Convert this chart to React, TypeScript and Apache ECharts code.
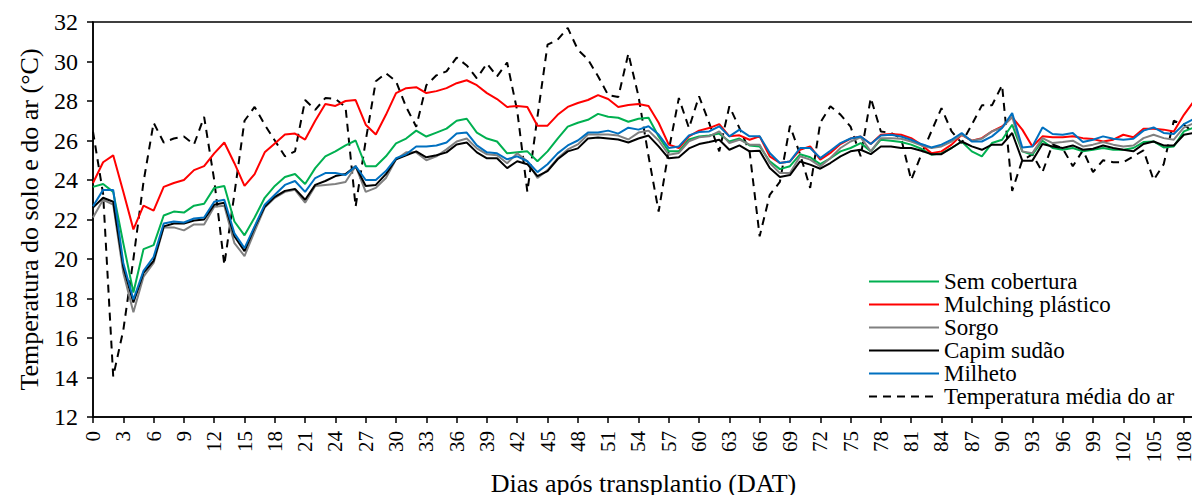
import React, { useEffect, useRef } from "react";
import * as echarts from "echarts";

const days: string[] = Array.from({ length: 110 }, (_, i) => String(i));

const semCobertura = [
  23.65, 23.8, 23.4, 20.8, 18.3, 20.5, 20.7, 22.2, 22.4, 22.35,
  22.7, 22.8, 23.6, 23.7, 21.9, 21.2, 22.1, 23.1, 23.7, 24.15,
  24.3, 23.8, 24.6, 25.2, 25.45, 25.75, 26.0, 24.7, 24.7, 25.2,
  25.85, 26.1, 26.5, 26.2, 26.4, 26.6, 27.0, 27.1, 26.4, 26.1,
  25.95, 25.35, 25.4, 25.45, 24.95, 25.45, 26.1, 26.7, 26.9, 27.05,
  27.35, 27.2, 27.15, 26.95, 27.1, 27.15, 26.2, 25.45, 25.45, 26.05,
  26.2, 26.25, 26.35, 25.95, 26.1, 25.75, 25.7, 24.95, 24.55, 24.7,
  25.3, 25.15, 24.8, 25.1, 25.45, 25.62, 25.87, 25.45, 26.04, 25.99,
  25.92, 25.79, 25.58, 25.28, 25.36, 25.62, 25.95, 25.45, 25.2, 25.87,
  26.04, 26.8, 25.45, 25.28, 25.99, 25.62, 25.53, 25.62, 25.45, 25.53,
  25.62, 25.53, 25.53, 25.62, 25.92, 25.95, 25.65, 25.7, 26.46, 26.66,
];

const mulching = [
  23.85, 24.9, 25.25, 23.4, 21.5, 22.7, 22.45, 23.65, 23.85, 24.0,
  24.5, 24.7, 25.35, 25.9, 24.85, 23.7, 24.3, 25.4, 25.85, 26.3,
  26.35, 26.05, 27.0, 27.85, 27.75, 28.0, 28.05, 26.8, 26.3, 27.3,
  28.4, 28.65, 28.7, 28.4, 28.5, 28.65, 28.9, 29.05, 28.8, 28.4,
  28.1, 27.7, 27.75, 27.7, 26.75, 26.75, 27.3, 27.7, 27.9, 28.05,
  28.3, 28.1, 27.7, 27.8, 27.85, 27.75, 26.9, 25.79, 25.62, 26.21,
  26.5, 26.63, 26.83, 26.21, 26.26, 26.04, 26.21, 25.2, 24.86, 24.94,
  25.53, 25.7, 25.03, 25.37, 25.82, 26.1, 26.2, 25.82, 26.29, 26.33,
  26.29, 26.12, 25.79, 25.36, 25.45, 25.79, 26.29, 25.99, 26.12, 26.46,
  26.71, 27.18, 26.55, 25.7, 26.21, 26.16, 26.16, 26.21, 26.12, 26.07,
  25.95, 26.04, 26.29, 26.16, 26.6, 26.6, 26.55, 26.46, 27.3, 28.0,
];

const sorgo = [
  22.1, 23.0, 22.75, 19.3, 17.3, 19.1, 19.8, 21.6, 21.6, 21.45,
  21.75, 21.75, 22.65, 22.7, 20.8, 20.15, 21.4, 22.6, 23.1, 23.4,
  23.5, 22.85, 23.7, 23.75, 23.8, 23.9, 24.7, 23.4, 23.6, 24.1,
  25.05, 25.4, 25.4, 25.0, 25.2, 25.55, 25.95, 26.1, 25.6, 25.3,
  25.25, 24.85, 25.35, 24.95, 24.1, 24.5, 25.1, 25.55, 25.8, 26.3,
  26.3, 26.3, 26.25, 26.05, 26.4, 26.5, 26.0, 25.28, 25.37, 25.96,
  26.16, 26.21, 26.46, 25.87, 26.04, 25.79, 25.79, 24.86, 24.35, 24.35,
  25.2, 25.03, 24.69, 25.11, 25.62, 25.95, 26.16, 25.45, 26.12, 26.12,
  26.09, 25.95, 25.75, 25.62, 25.7, 25.95, 26.29, 25.99, 26.09, 26.46,
  26.66, 27.2, 25.45, 25.36, 26.12, 25.87, 25.92, 25.99, 25.7, 25.79,
  25.92, 25.79, 25.7, 25.75, 26.12, 26.29, 26.12, 26.04, 26.66, 26.88,
];

const capimSudao = [
  22.6, 23.1, 22.9, 19.6, 17.8, 19.3, 19.9, 21.65, 21.8, 21.8,
  21.95, 22.0, 22.75, 22.85, 21.15, 20.4, 21.6, 22.65, 23.15, 23.45,
  23.55, 23.0, 23.75, 23.95, 24.2, 24.3, 24.7, 23.7, 23.75, 24.3,
  25.05, 25.25, 25.45, 25.15, 25.25, 25.4, 25.8, 25.9, 25.4, 25.1,
  25.1, 24.6, 24.95, 24.8, 24.2, 24.45, 25.05, 25.45, 25.6, 26.1,
  26.15, 26.1, 26.05, 25.9, 26.1, 26.25, 25.7, 25.1, 25.15, 25.6,
  25.82, 25.92, 26.04, 25.53, 25.75, 25.45, 25.48, 24.61, 24.15, 24.25,
  24.94, 24.78, 24.57, 24.86, 25.2, 25.45, 25.53, 25.31, 25.7, 25.7,
  25.62, 25.62, 25.48, 25.31, 25.31, 25.62, 25.95, 25.7, 25.53, 25.79,
  25.79, 26.38, 24.98, 24.98, 25.82, 25.7, 25.62, 25.75, 25.53, 25.58,
  25.75, 25.62, 25.53, 25.45, 25.82, 25.95, 25.75, 25.75, 26.29, 26.38,
];

const milheto = [
  22.67, 23.5, 23.5, 19.8, 17.95, 19.4, 20.1, 21.8, 21.9, 21.85,
  22.05, 22.1, 22.9, 23.0, 21.3, 20.55, 21.65, 22.75, 23.25, 23.75,
  23.95, 23.4, 24.1, 24.35, 24.35, 24.25, 24.7, 24.0, 24.0, 24.45,
  25.1, 25.3, 25.7, 25.7, 25.75, 25.9, 26.35, 26.4, 25.75, 25.4,
  25.35, 25.05, 25.2, 24.95, 24.4, 24.8, 25.35, 25.75, 26.0, 26.4,
  26.4, 26.5, 26.35, 26.65, 26.55, 26.72, 26.3, 25.62, 25.7, 26.26,
  26.43, 26.46, 26.72, 26.21, 26.55, 26.21, 26.21, 25.37, 24.86, 24.94,
  25.62, 25.62, 25.11, 25.48, 25.87, 26.1, 26.2, 25.82, 26.25, 26.29,
  26.2, 26.04, 25.82, 25.65, 25.79, 26.04, 26.38, 25.95, 25.95, 26.21,
  26.63, 27.39, 25.65, 25.7, 26.66, 26.33, 26.29, 26.38, 25.92, 26.04,
  26.21, 26.09, 26.04, 26.09, 26.5, 26.66, 26.38, 26.33, 26.83, 27.1,
];

const tempAr = [
  26.45, 23.3, 14.05, 16.4, 20.0, 23.9, 26.9, 25.9, 26.1, 26.2,
  25.8, 27.2, 24.0, 19.7, 23.3, 27.0, 27.7, 26.8, 26.0, 25.2,
  25.45, 28.05, 27.55, 28.15, 28.1, 27.7, 22.65, 26.0, 29.0, 29.4,
  29.0, 27.7, 26.7, 28.8, 29.3, 29.5, 30.2, 29.8, 29.15, 29.9,
  29.25, 29.95, 27.5, 23.4, 27.2, 30.85, 31.1, 31.7, 30.6, 30.1,
  29.25, 28.3, 28.2, 30.4, 28.25, 25.2, 22.4, 25.5, 28.15, 26.63,
  28.24, 26.89, 25.45, 27.73, 26.63, 25.45, 21.15, 23.25, 23.9, 26.75,
  25.3, 23.6, 26.9, 27.73, 27.31, 26.7, 25.2, 28.15, 26.46, 26.38,
  26.12, 24.0, 25.28, 26.46, 27.64, 26.46, 25.87, 26.8, 27.78, 27.78,
  28.8, 23.45, 25.0, 25.3, 24.4, 25.8, 25.6, 24.7, 25.5, 24.4,
  25.0, 24.9, 24.9, 25.2, 25.5, 24.0, 24.8, 27.0, 26.8, 26.4,
];

const seriesNames = [
  "Sem cobertura",
  "Mulching plástico",
  "Sorgo",
  "Capim sudão",
  "Milheto",
  "Temperatura média do ar",
];
const seriesColors = ["#00B050", "#FF0000", "#808080", "#000000", "#0070C0", "#000000"];
const seriesData = [semCobertura, mulching, sorgo, capimSudao, milheto, tempAr];

const FONT = "Liberation Serif";

function buildOption() {
  return {
    animation: false,
    grid: {
      left: 80,
      right: 14,
      top: 14,
      bottom: 86,
      show: true,
      borderColor: "#000",
      borderWidth: 1.5,
    },
    legend: {
      orient: "vertical",
      left: 860,
      top: 262,
      padding: 0,
      itemWidth: 70,
      itemHeight: 14,
      itemGap: 0,
      data: seriesNames,
      itemStyle: { opacity: 0 },
      textStyle: {
        fontFamily: FONT,
        fontSize: 23,
        lineHeight: 23,
        color: "#000",
      },
    },
    xAxis: {
      type: "category",
      data: days,
      boundaryGap: false,
      name: "Dias após transplantio (DAT)",
      nameLocation: "middle",
      nameGap: 48,
      nameTextStyle: { fontFamily: FONT, fontSize: 26, color: "#000" },
      axisLine: { lineStyle: { color: "#000", width: 1.5 } },
      axisTick: { interval: 2, length: 6, lineStyle: { color: "#000", width: 1.5 } },
      axisLabel: {
        interval: 2,
        rotate: 90,
        margin: 14,
        fontFamily: FONT,
        fontSize: 21,
        color: "#000",
      },
      splitLine: { show: false },
    },
    yAxis: {
      type: "value",
      min: 12,
      max: 32,
      interval: 2,
      name: "Temperatura do solo e do ar (°C)",
      nameLocation: "middle",
      nameGap: 51,
      nameTextStyle: { fontFamily: FONT, fontSize: 26, color: "#000" },
      axisLine: { show: true, lineStyle: { color: "#000", width: 1.5 } },
      axisTick: { show: true, length: 6, lineStyle: { color: "#000", width: 1.5 } },
      axisLabel: { margin: 15, fontFamily: FONT, fontSize: 24, color: "#000" },
      splitLine: { show: false },
    },
    series: seriesNames.map((name, i) => ({
      name,
      type: "line",
      data: seriesData[i],
      symbol: "none",
      color: seriesColors[i],
      lineStyle: {
        color: seriesColors[i],
        width: 2,
        type: i === 5 ? [8, 6] : "solid",
      },
      z: i === 5 ? 1 : 2 + i,
    })),
  };
}

export default function App() {
  const ref = useRef<HTMLDivElement>(null);

  useEffect(() => {
    if (!ref.current) return;
    const chart = echarts.init(ref.current, undefined, { renderer: "svg" });
    chart.setOption(buildOption());
    let alive = true;
    const redraw = () => {
      if (!alive) return;
      chart.setOption(buildOption(), true);
    };
    const t1 = setTimeout(redraw, 120);
    const fonts = (document as any).fonts;
    if (fonts && fonts.ready) fonts.ready.then(redraw).catch(() => {});
    return () => {
      alive = false;
      clearTimeout(t1);
      chart.dispose();
    };
  }, []);

  return <div ref={ref} style={{ width: 1200, height: 495 }} />;
}
